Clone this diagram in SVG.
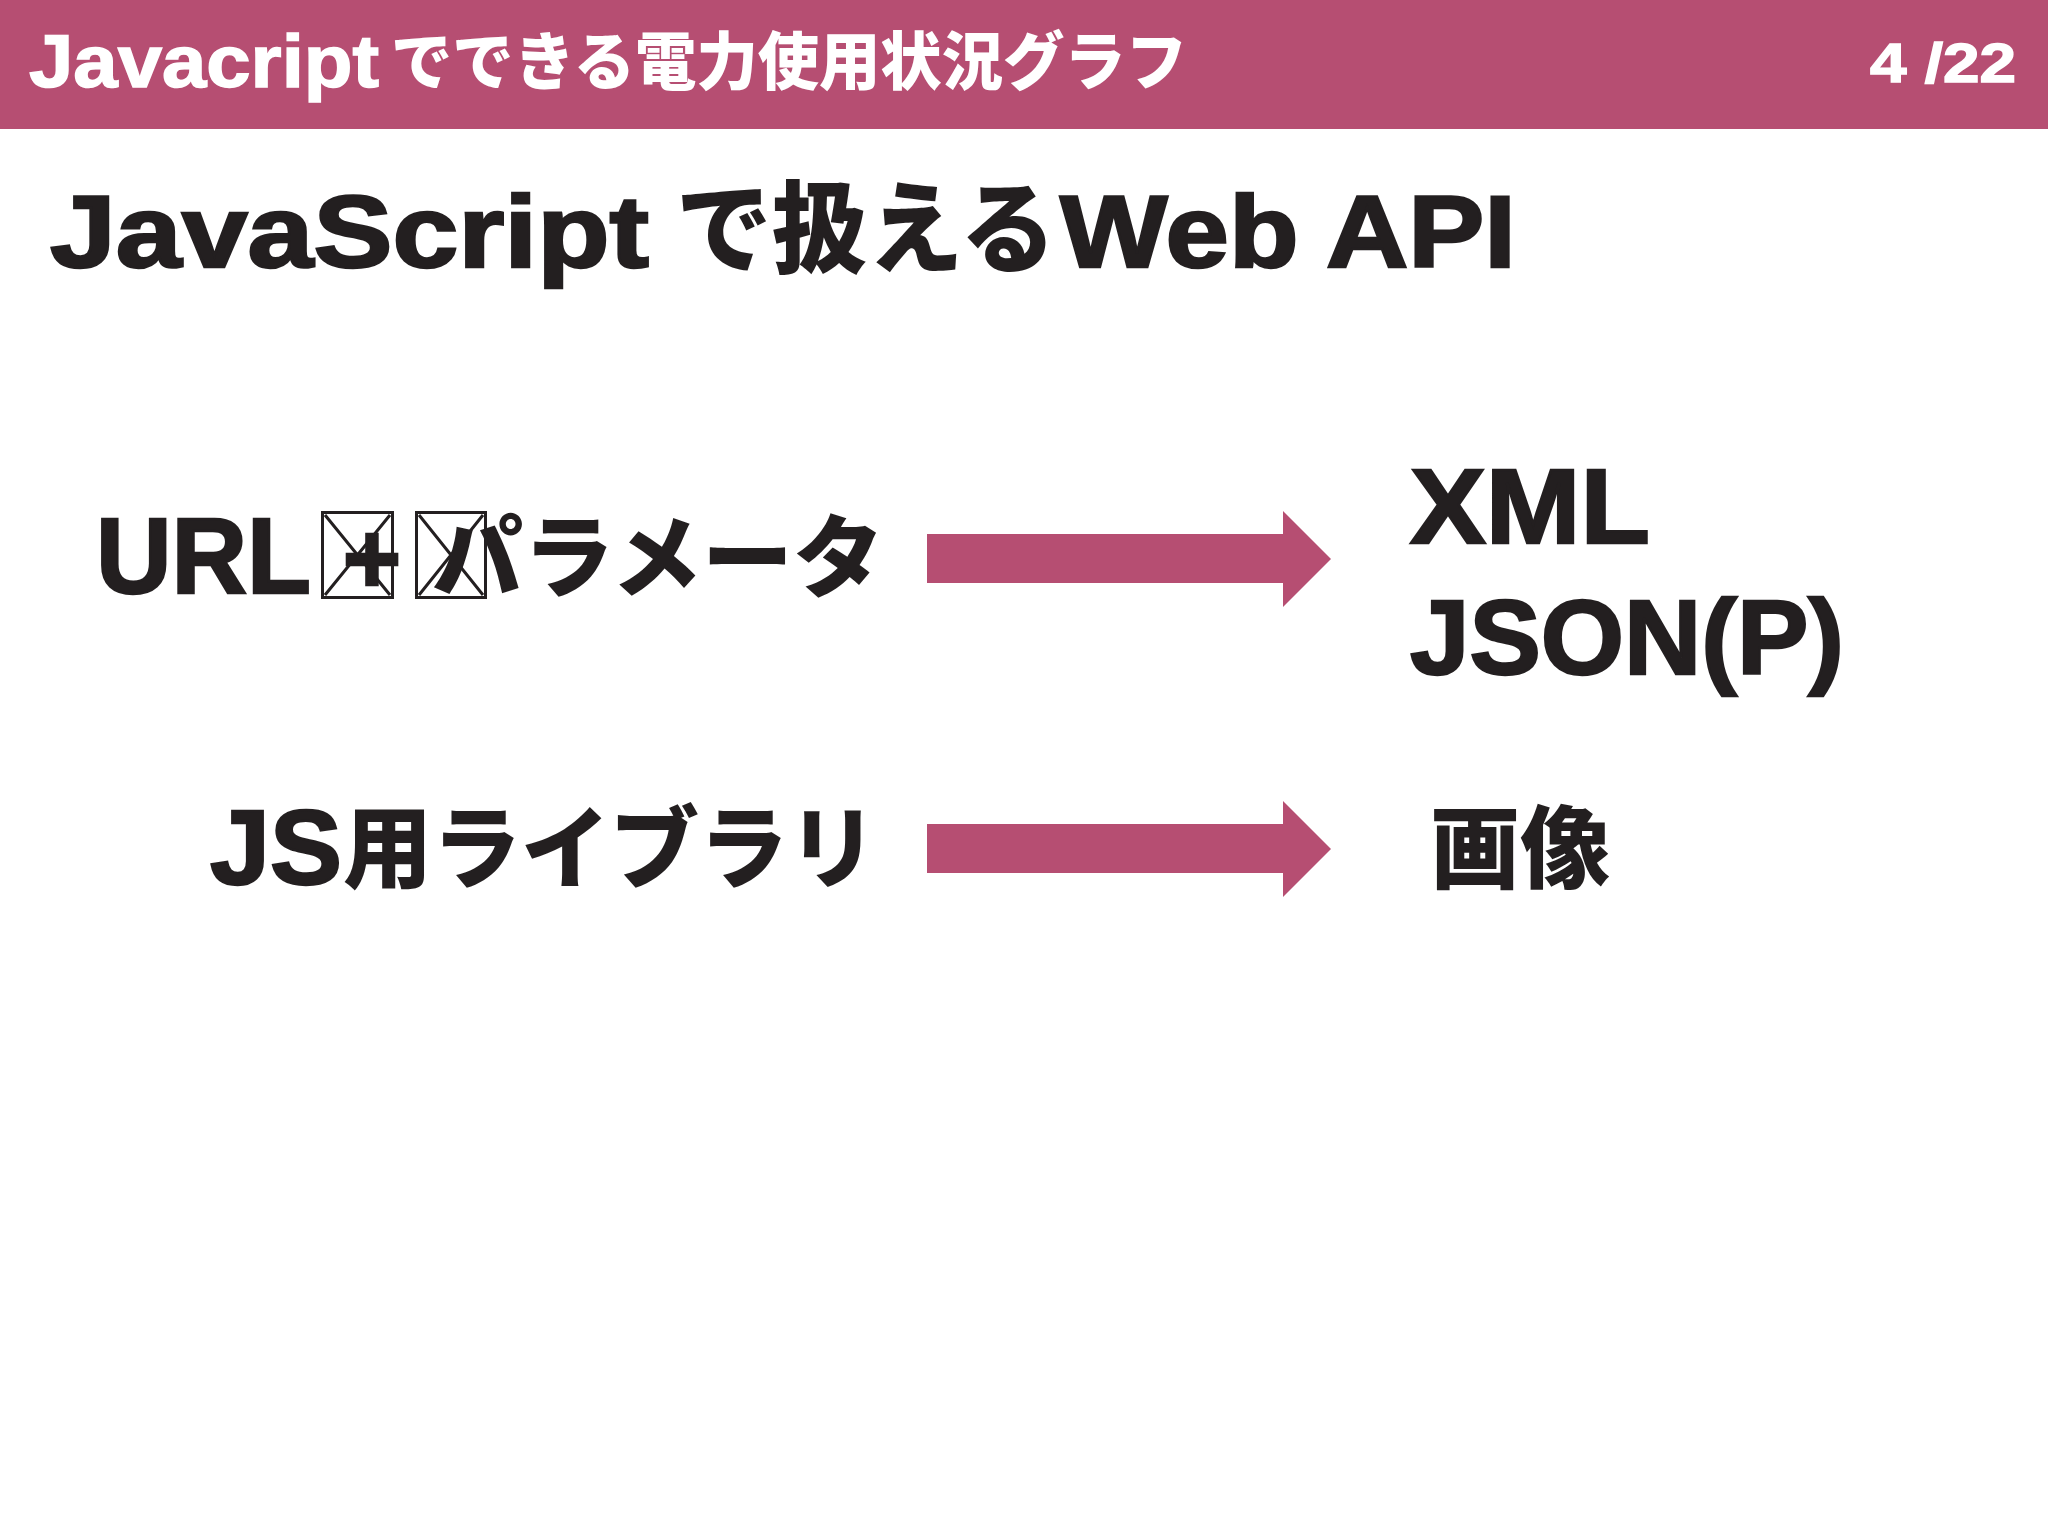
<svg xmlns="http://www.w3.org/2000/svg" width="2048" height="1536" viewBox="0 0 2048 1536">
<style>
.hdr{fill:#ffffff;stroke:#ffffff;stroke-width:1.5;font-family:"Liberation Sans","Noto Sans CJK JP",sans-serif;font-weight:bold}
.t{fill:#231f20;stroke:#231f20;stroke-width:2.5;font-family:"Liberation Sans","Noto Sans CJK JP",sans-serif;font-weight:bold}
.j{fill:#231f20;font-family:"Noto Sans CJK JP","Liberation Sans",sans-serif;font-weight:900}
.jw{fill:#ffffff;font-family:"Noto Sans CJK JP","Liberation Sans",sans-serif;font-weight:900}
.arrow{fill:#b64e72}
.tofu{fill:none;stroke:#231f20;stroke-width:3}
</style>
<rect x="0" y="0" width="2048" height="1536" fill="#ffffff"/>
<g id="header">
<rect x="0" y="0" width="2048" height="129" fill="#b64e72"/>
<text class="hdr" x="29" y="87" font-size="74" textLength="350" lengthAdjust="spacingAndGlyphs">Javacript</text>
<text class="jw" x="391" y="84" font-size="63" textLength="796" lengthAdjust="spacingAndGlyphs">でできる電力使用状況グラフ</text>
<text class="hdr" x="1870" y="82" font-size="56" textLength="146" lengthAdjust="spacingAndGlyphs">4 /22</text>
</g>
<g id="title">
<text class="t" x="50" y="267" font-size="102" textLength="599" lengthAdjust="spacingAndGlyphs">JavaScript</text>
<text class="j" x="676" y="265" font-size="100" textLength="380" lengthAdjust="spacingAndGlyphs">で扱える</text>
<text class="t" x="1060" y="267" font-size="102" textLength="456" lengthAdjust="spacingAndGlyphs">Web API</text>
</g>
<g id="node-url-params">
<text class="t" x="96" y="593" font-size="108" textLength="215" lengthAdjust="spacingAndGlyphs">URL</text>
<rect class="tofu" x="322.5" y="512.5" width="70" height="85"/>
<path class="tofu" d="M325 515 L390 595 M390 515 L325 595"/>
<text class="t" x="372" y="593" font-size="100" text-anchor="middle">+</text>
<rect class="tofu" x="416.5" y="512.5" width="69" height="85"/>
<path class="tofu" d="M419 515 L483 595 M483 515 L419 595"/>
<text class="j" x="432" y="590" font-size="90" textLength="452" lengthAdjust="spacingAndGlyphs">パラメータ</text>
</g>
<g id="node-js-lib">
<text class="t" x="210" y="884" font-size="106" textLength="132" lengthAdjust="spacingAndGlyphs">JS</text>
<text class="j" x="343" y="881" font-size="90" textLength="534" lengthAdjust="spacingAndGlyphs">用ライブラリ</text>
</g>
<g id="node-xml-json">
<text class="t" x="1410" y="543" font-size="106" textLength="240" lengthAdjust="spacingAndGlyphs">XML</text>
<text class="t" x="1410" y="674" font-size="106" textLength="434" lengthAdjust="spacingAndGlyphs">JSON(P)</text>
</g>
<g id="node-image">
<text class="j" x="1430" y="881" font-size="90" textLength="180" lengthAdjust="spacingAndGlyphs">画像</text>
</g>
<g id="connectors">
<polygon class="arrow" points="927,534 1283,534 1283,511 1331,559 1283,607 1283,583 927,583"/>
<polygon class="arrow" points="927,824 1283,824 1283,801 1331,849 1283,897 1283,873 927,873"/>
</g>
</svg>
